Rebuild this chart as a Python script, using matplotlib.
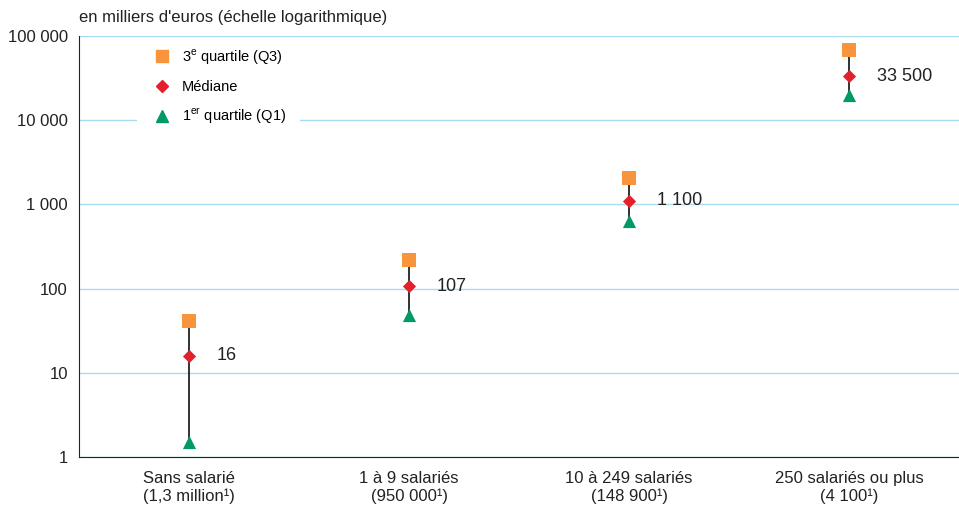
import matplotlib
matplotlib.use("Agg")
import matplotlib.pyplot as plt
from matplotlib.lines import Line2D
from matplotlib.ticker import FixedLocator, NullLocator

plt.rcParams['font.family'] = ['Liberation Sans Narrow', 'Liberation Sans', 'DejaVu Sans']

# Categories and quartile values (thousands of euros)
categories = ["Sans salarié\n(1,3 million\u00b9)",
              "1 à 9 salariés\n(950 000\u00b9)",
              "10 à 249 salariés\n(148 900\u00b9)",
              "250 salariés ou plus\n(4 100\u00b9)"]
q1 = [1.5, 48, 630, 20000]
median = [16, 107, 1100, 33500]
q3 = [41, 219, 2050, 68000]
median_labels = ["16", "107", "1 100", "33 500"]

y_ticks = [1, 10, 100, 1000, 10000, 100000]
y_tick_labels = ["1", "10", "100", "1 000", "10 000", "100 000"]

c_q3 = "#F7943C"
c_med = "#E3202B"
c_q1 = "#019A66"
c_grid = "#A9DBF2"

fig = plt.figure(figsize=(9.59, 5.13), dpi=100)
ax = fig.add_axes([0.0824, 0.1092, 0.9176, 0.8206])

x = list(range(len(categories)))

# whiskers from Q1 to Q3
ax.vlines(x, q1, q3, color="#222222", linewidth=1.3, zorder=2)
ax.scatter(x, q3, marker="s", s=90, color=c_q3, zorder=3, linewidths=0)
ax.scatter(x, median, marker="D", s=45, color=c_med, zorder=4, linewidths=0)
ax.scatter(x, q1, marker="^", s=90, color=c_q1, zorder=3, linewidths=0)

for xi, m, lab in zip(x, median, median_labels):
    ax.annotate(lab, (xi, m), xytext=(20, 0), textcoords="offset points",
                va="center", ha="left", fontsize=13, color="#222222")

ax.set_yscale("log")
ax.set_ylim(1, 100000)
ax.set_xlim(-0.5, 3.5)
ax.yaxis.set_major_locator(FixedLocator(y_ticks))
ax.yaxis.set_minor_locator(NullLocator())
ax.set_yticks(y_ticks)
ax.set_yticklabels(y_tick_labels)
ax.set_xticks(x)
ax.set_xticklabels(categories)
ax.tick_params(axis="both", length=0, labelsize=12, colors="#222222", pad=8)
ax.tick_params(axis="x", pad=10)

ax.grid(axis="y", color=c_grid, linewidth=1)
ax.set_axisbelow(True)
for s in ["top", "right"]:
    ax.spines[s].set_visible(False)
ax.spines["left"].set_color("#222222")
ax.spines["bottom"].set_color("#222222")

handles = [
    Line2D([], [], marker="s", linestyle="none", color=c_q3, markersize=8),
    Line2D([], [], marker="D", linestyle="none", color=c_med, markersize=6),
    Line2D([], [], marker="^", linestyle="none", color=c_q1, markersize=8),
]
labels = ["3$^{\\mathregular{e}}$ quartile (Q3)  ", "Médiane",
          "1$^{\\mathregular{er}}$ quartile (Q1)  "]
leg = ax.legend(handles, labels, loc="upper left", bbox_to_anchor=(0.066, 0.995),
                frameon=True, fontsize=10.5, handletextpad=0.25, labelspacing=0.9,
                borderpad=0.6, handlelength=2.2, borderaxespad=0)
leg.get_frame().set_facecolor("white")
leg.get_frame().set_edgecolor("none")
leg.get_frame().set_alpha(1)
leg.get_frame().set_boxstyle("square", pad=0)

fig.text(0.0824, 0.965, "en milliers d'euros (échelle logarithmique)",
         fontsize=12, color="#222222", va="center", ha="left")

fig.savefig("out.png", dpi=100)
